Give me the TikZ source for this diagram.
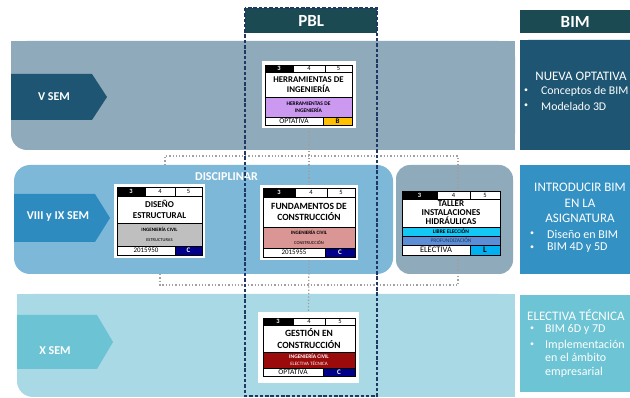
\documentclass[tikz,border=0pt]{standalone}
\usepackage{fontspec}
\setmainfont{Carlito}
\definecolor{hdr}{HTML}{1B4A52}
\definecolor{vband}{HTML}{8EAABB}
\definecolor{varrow}{HTML}{1D5573}
\definecolor{mband}{HTML}{7EB8D8}
\definecolor{marrow}{HTML}{2E8BC0}
\definecolor{xband}{HTML}{A8D9E4}
\definecolor{xarrow}{HTML}{6BC3D4}
\definecolor{pblnavy}{HTML}{1F3864}
\definecolor{dotgray}{HTML}{A0A0A0}
\definecolor{purp}{HTML}{CC99F0}
\definecolor{ylw}{HTML}{FFC000}
\definecolor{grayrow}{HTML}{BFBFBF}
\definecolor{pinkrow}{HTML}{D99694}
\definecolor{cyanrow}{HTML}{14C8F5}
\definecolor{bluerow}{HTML}{5B8ED6}
\definecolor{navycell}{HTML}{00008B}
\definecolor{redrow}{HTML}{9B0B0B}
\definecolor{cyancell}{HTML}{00B0F0}
\definecolor{bimtwo}{HTML}{3391C4}
\definecolor{bimthree}{HTML}{6CC4D4}
\newcommand\ccell[8][\fontsize{6.5}{7}\selectfont]{\node[cellbox,font={#1},fill=#7,minimum width={(#5-#3)*1pt},minimum height={(#6-#4)*1pt},anchor=north west] (#2) at (#3,#4) {#8};}
\newcommand\numrow[7]{%
 \ccell[\bfseries\fontsize{6.5}{7}\selectfont]{#1nA}{#4}{#2}{#5}{#3}{black}{\textcolor{white}{3}}%
 \ccell{#1nB}{#5}{#2}{#6}{#3}{white}{4}%
 \ccell{#1nC}{#6}{#2}{#7}{#3}{white}{5}}
\begin{document}
\begin{tikzpicture}[x=1pt,y=-1pt,
 cellbox/.style={draw=black,line width=0.5pt,inner sep=0pt,outer sep=0pt,align=center},
 cardframe/.style={fill=white,inner sep=0pt,outer sep=0pt,anchor=north west},
 hdrbox/.style={fill=hdr,text=white,font=\bfseries\fontsize{17}{18}\selectfont,inner sep=0pt,anchor=north west},
 semlabel/.style={text=white,font=\bfseries\fontsize{12}{12}\selectfont,inner sep=0pt},
 bimtext/.style={text=white,font=\fontsize{12}{13}\selectfont,inner sep=0pt},
 bimbullet/.style={text=white,font=\fontsize{8}{9}\selectfont,inner sep=0pt},
 link/.style={draw=dotgray,line width=1.3pt,dotted},
 pbldash/.style={draw=pblnavy,line width=1.1pt,dash pattern=on 3.5pt off 1.8pt}]
\useasboundingbox (0,0) rectangle (630,398);
\fill[white] (0,0) rectangle (630,398);

% V band
\fill[vband,rounded corners=16pt] (11,41) rectangle (515,150);
\fill[vband] (11,41) rectangle (100,100);
\fill[vband] (400,41) rectangle (515,150);
% VIII band
\fill[mband,rounded corners=16pt] (14,165) rectangle (393,274);
\fill[vband,rounded corners=14pt] (396,165) rectangle (513,274);
% X band
\fill[xband,rounded corners=16pt] (17,294) rectangle (515,397);
\fill[xband] (17,294) rectangle (100,340);
\fill[xband] (400,294) rectangle (515,397);

% semester arrows
\fill[varrow] (11,74) -- (92,74) -- (107,97) -- (92,120) -- (11,120) -- cycle;
\node[semlabel] (vsem) at (54,97) {V SEM};
\fill[marrow] (14,194) -- (95,194) -- (110,218) -- (95,242) -- (14,242) -- cycle;
\node[semlabel] (viiisem) at (58,217) {VIII y IX SEM};
\fill[xarrow] (17,315) -- (97,315) -- (113,342) -- (97,369) -- (17,369) -- cycle;
\node[semlabel] (xsem) at (55,351) {X SEM};

\node[semlabel,anchor=west] (disc) at (195,177) {DISCIPLINAR};

% BIM column
\node[hdrbox,minimum width=110pt,minimum height=23pt] (bim) at (520,10) {BIM};
\fill[varrow,rounded corners=8pt] (520,40) rectangle (638,150);
\fill[varrow] (520,40) rectangle (560,150);
\fill[bimtwo] (520,165) rectangle (630,274);
\fill[bimthree] (520,295) rectangle (630,392);

\node[bimtext,font=\fontsize{13}{14}\selectfont] (b1t) at (581,76) {NUEVA OPTATIVA};
\node[bimbullet] (b1a) at (526,91) {\textbullet};
\node[bimtext,anchor=west,font=\fontsize{11.8}{14}\selectfont] (b1at) at (541,91) {Conceptos de BIM};
\node[bimbullet] (b1b) at (526,106) {\textbullet};
\node[bimtext,anchor=west,font=\fontsize{11.8}{14}\selectfont] (b1bt) at (541,106) {Modelado 3D};

\node[bimtext,align=center,font=\fontsize{13}{15.5}\selectfont] (b2t) at (580,203) {INTRODUCIR BIM\\EN LA\\ASIGNATURA};
\node[bimbullet] (b2a) at (532,234) {\textbullet};
\node[bimtext,anchor=west] (b2at) at (547,234) {Diseño en BIM};
\node[bimbullet] (b2b) at (532,248) {\textbullet};
\node[bimtext,anchor=west] (b2bt) at (547,248) {BIM 4D y 5D};

\node[bimtext,anchor=west,font=\fontsize{13}{14}\selectfont] (b3t) at (527,315) {ELECTIVA TÉCNICA};
\node[bimbullet] (b3a) at (532,329) {\textbullet};
\node[bimtext,anchor=west] (b3at) at (545,329) {BIM 6D y 7D};
\node[bimbullet] (b3b) at (532,345) {\textbullet};
\node[bimtext,anchor=west,align=left,font=\fontsize{12}{13.5}\selectfont] (b3bt) at (545,358.5) {Implementación\\en el ámbito\\empresarial};

% card frames
\node[cardframe,minimum width=94pt,minimum height=67pt] (herr) at (262,61) {};
\node[cardframe,minimum width=91pt,minimum height=74pt] (dis) at (114,184) {};
\node[cardframe,minimum width=98pt,minimum height=75pt] (fund) at (260,185) {};
\node[cardframe,fill=none,minimum width=98pt,minimum height=64pt] (tall) at (402,191) {};
\node[cardframe,minimum width=101pt,minimum height=71pt] (gest) at (258,312) {};

% connectors
\coordinate (tl) at (165,156);
\coordinate (tr) at (458,156);
\coordinate (tlb) at (165,165);
\coordinate (bl) at (160,285);
\coordinate (br) at (458,285);
\coordinate (blt) at (160,274);
\draw[link] (herr.south) -- (fund.north);
\draw[link] (tlb) -- (tl) -- (tr) -- (tr |- tall.north);
\draw[link] (fund.south) -- (gest.north);
\draw[link] (blt) -- (bl) -- (br) -- (br |- tall.south);

% Herramientas
\numrow{herr}{65}{72}{265}{293}{325}{352}
\ccell[\bfseries\fontsize{8.8}{10.5}\selectfont]{herrT}{265}{72}{352}{97}{white}{HERRAMIENTAS DE\\INGENIERÍA}
\ccell[\bfseries\fontsize{5.5}{6.5}\selectfont]{herrD}{265}{97}{352}{117}{purp}{HERRAMIENTAS DE\\INGENIERÍA}
\ccell[\fontsize{7.5}{8}\selectfont]{herrO}{265}{117}{323}{125}{white}{OPTATIVA}
\ccell[\bfseries\fontsize{7}{8}\selectfont]{herrL}{323}{117}{352}{125}{ylw}{B}

% Diseño
\numrow{dis}{187}{196}{117}{145}{175}{202}
\ccell[\bfseries\fontsize{9}{11}\selectfont]{disT}{117}{196}{202}{223}{white}{DISEÑO\\ESTRUCTURAL}
\ccell[\fontsize{5}{9.5}\selectfont]{disD}{117}{223}{202}{246}{grayrow}{{\bfseries INGENIERÍA CIVIL}\\{\fontsize{4.5}{9.5}\selectfont ESTRUCTURAS}}
\ccell[\fontsize{7}{8}\selectfont]{disO}{117}{246}{175}{255}{white}{2015950}
\ccell[\bfseries\fontsize{7}{8}\selectfont]{disL}{175}{246}{202}{255}{navycell}{\textcolor{white}{C}}

% Fundamentos
\numrow{fund}{188}{197}{263}{295}{327}{355}
\ccell[\bfseries\fontsize{9.5}{11.5}\selectfont]{fundT}{263}{197}{355}{227}{white}{FUNDAMENTOS DE\\CONSTRUCCIÓN}
\ccell[\fontsize{5}{9.5}\selectfont]{fundD}{263}{227}{355}{248}{pinkrow}{{\bfseries INGENIERÍA CIVIL}\\{\fontsize{4.5}{9.5}\selectfont CONSTRUCCIÓN}}
\ccell[\fontsize{7}{8}\selectfont]{fundO}{263}{248}{325}{257}{white}{2015955}
\ccell[\bfseries\fontsize{7}{8}\selectfont]{fundL}{325}{248}{355}{257}{navycell}{\textcolor{white}{C}}

% Taller
\numrow{tall}{191}{199}{402}{437}{470}{500}
\ccell[\bfseries\fontsize{9}{9}\selectfont]{tallT}{402}{199}{500}{227}{white}{TALLER\\INSTALACIONES\\HIDRÁULICAS}
\ccell[\bfseries\fontsize{5.5}{6}\selectfont]{tallD}{402}{227}{500}{236}{cyanrow}{LIBRE ELECCIÓN}
\ccell[\fontsize{5.5}{6}\selectfont]{tallE}{402}{236}{500}{245}{bluerow}{\textcolor{pblnavy}{PROFUNDIZACIÓN}}
\ccell[\fontsize{8.5}{9}\selectfont]{tallO}{402}{245}{470}{255}{white}{ELECTIVA}
\ccell[\bfseries\fontsize{8.5}{9}\selectfont]{tallL}{470}{245}{500}{255}{cyancell}{L}

% Gestión
\numrow{gest}{318}{325}{263}{293}{325}{355}
\ccell[\bfseries\fontsize{9.5}{11.5}\selectfont]{gestT}{263}{325}{355}{352}{white}{GESTIÓN EN\\CONSTRUCCIÓN}
\ccell[\color{white}\fontsize{5.5}{7}\selectfont]{gestD}{263}{352}{355}{368}{redrow}{{\bfseries INGENIERÍA CIVIL}\\{\fontsize{5}{7}\selectfont ELECTIVA TÉCNICA}}
\ccell[\fontsize{7.5}{8}\selectfont]{gestO}{263}{368}{323}{376}{white}{OPTATIVA}
\ccell[\bfseries\fontsize{7}{8}\selectfont]{gestL}{323}{368}{355}{376}{navycell}{\textcolor{white}{C}}

% PBL column
\node[hdrbox,minimum width=132pt,minimum height=25pt] (pbl) at (245,8) {PBL};
\coordinate (pblbot) at (377,396);
\draw[pbldash] (pbl.north west) rectangle (pblbot);
\end{tikzpicture}
\end{document}
